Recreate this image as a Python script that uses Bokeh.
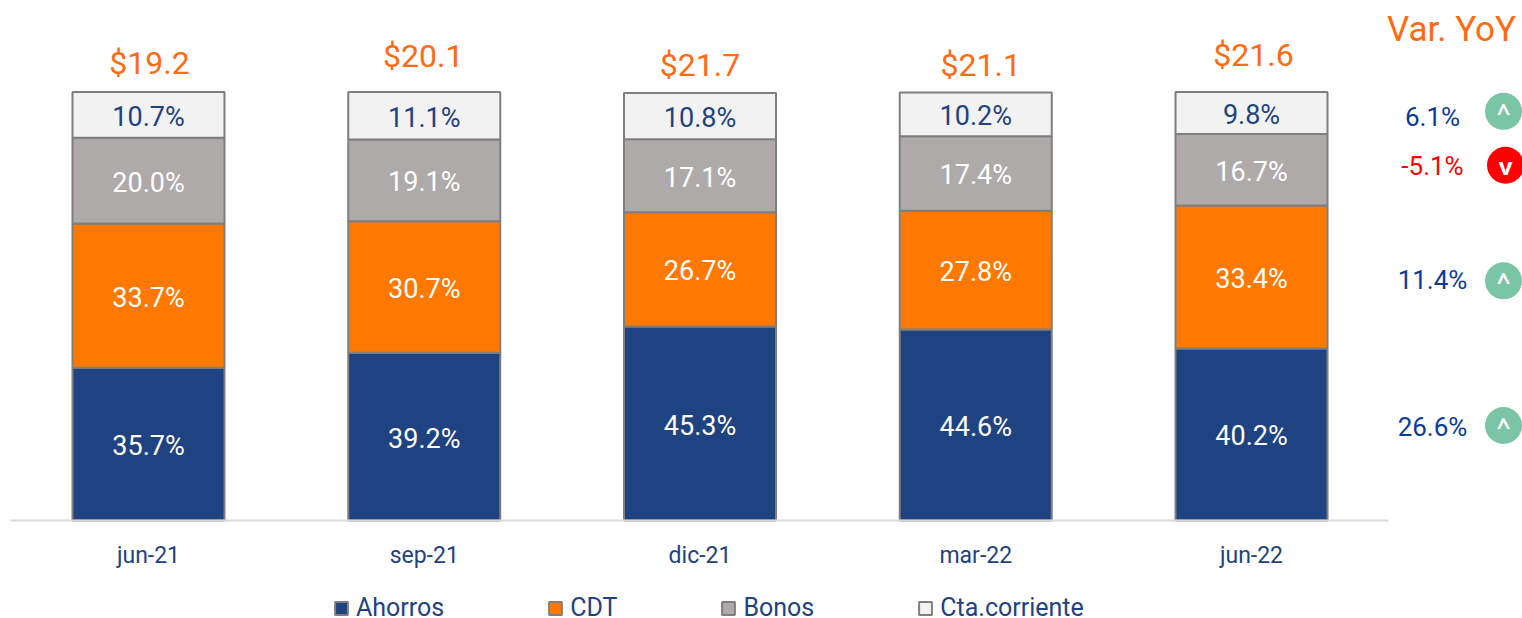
from bokeh.plotting import figure
from bokeh.models import ColumnDataSource, FixedTicker, Label, Legend, LegendItem
from bokeh.core.properties import value
from bokeh.embed import file_html
from bokeh.resources import INLINE

periods = ["jun-21", "sep-21", "dic-21", "mar-22", "jun-22"]
ahorros = [35.7, 39.2, 45.3, 44.6, 40.2]
cdt = [33.7, 30.7, 26.7, 27.8, 33.4]
bonos = [20.0, 19.1, 17.1, 17.4, 16.7]
cta = [10.7, 11.1, 10.8, 10.2, 9.8]
totals = ["$19.2", "$20.1", "$21.7", "$21.1", "$21.6"]
yoy_labels = ["6.1%", "-5.1%", "11.4%", "26.6%"]
yoy_up = [True, False, True, True]
legend_labels = ["Ahorros", "CDT", "Bonos", "Cta.corriente"]

# layout only
total_dy = [-30, -37, -28, -28, -38]
total_dx = [1, -1, 0, 5, 2]
yoy_y = [94.3, 82.9, 56.1, 21.9]
icon_y = [95.6, 83.0, 56.0, 22.2]
yoy_x = [1432, 1432, 1432, 1432]
icon_x = [1503, 1505, 1503, 1503]

FONT = "Roboto"
NAVY, ORANGE, GREY, LIGHT = "#1F4280", "#FF7900", "#AEAAAA", "#F2F2F2"
TOTAL = "#FF6A13"
PX_X, X0 = 275.75, 148.0
PX_Y = 4.28
to_x = lambda px: (px - X0) / PX_X

x = list(range(len(periods)))
p = figure(width=1522, height=618, output_backend="svg", toolbar_location=None,
           x_range=(-X0 / PX_X, (1522 - X0) / PX_X), y_range=(-98 / PX_Y, 520 / PX_Y),
           min_border_left=0, min_border_right=0, min_border_top=0, min_border_bottom=0,
           outline_line_color=None, background_fill_color="white")
p.grid.visible = False
p.yaxis.visible = False

ax = p.xaxis[0]
ax.fixed_location = 0
ax.ticker = FixedTicker(ticks=x)
ax.major_label_overrides = {i: s for i, s in enumerate(periods)}
ax.bounds = ((10 - X0) / PX_X, (1388 - X0) / PX_X)
ax.axis_line_color = "#D9D9D9"
ax.axis_line_width = 2
ax.major_tick_line_color = None
ax.minor_tick_line_color = None
ax.major_label_standoff = 15
ax.major_label_text_font = FONT
ax.major_label_text_font_size = "23px"
ax.major_label_text_color = NAVY

src = ColumnDataSource(dict(x=x, Ahorros=ahorros, CDT=cdt, Bonos=bonos, Cta=cta))
names = ["Ahorros", "CDT", "Bonos", "Cta"]
colors = [NAVY, ORANGE, GREY, LIGHT]
rs = p.vbar_stack(names, x="x", width=152 / PX_X, source=src,
                  fill_color=colors, line_color="#7F7F7F", line_width=2)

bottom = [0.0] * len(x)
for vals, col in zip([ahorros, cdt, bonos, cta], ["white", "white", "white", NAVY]):
    mids = [b + v / 2 for b, v in zip(bottom, vals)]
    bottom = [b + v for b, v in zip(bottom, vals)]
    s = ColumnDataSource(dict(x=x, y=mids, t=[f"{v:.1f}%" for v in vals]))
    p.text("x", "y", text="t", source=s, text_font=value(FONT), text_font_size="27px",
           text_color=col, text_align="center", text_baseline="middle", y_offset=2)

ts = ColumnDataSource(dict(x=x, y=[100] * 5, t=totals, dx=total_dx, dy=total_dy))
p.text("x", "y", text="t", source=ts, text_font=value(FONT), text_font_size="32px",
       text_color=TOTAL, text_align="center", text_baseline="middle", x_offset="dx", y_offset="dy")

ys = ColumnDataSource(dict(x=[to_x(v) for v in yoy_x], y=yoy_y, t=yoy_labels,
                           c=[("#0B3A9A" if u else "#FF0000") for u in yoy_up]))
p.text("x", "y", text="t", source=ys, text_font=value(FONT), text_font_size="26px",
       text_color="c", text_align="center", text_baseline="middle")
ic = ColumnDataSource(dict(x=[to_x(v) for v in icon_x], y=icon_y,
                           c=[("#7AC5A5" if u else "#FF0000") for u in yoy_up],
                           t=["^" if u else "v" for u in yoy_up]))
p.scatter("x", "y", source=ic, size=37, marker="circle", fill_color="c", line_color=None)
p.text("x", "y", text="t", source=ic, text_font=value("Noto Sans"), text_font_style="bold",
       text_font_size="24px", text_color="white", text_align="center", text_baseline="middle")

p.add_layout(Label(x=1451, y=589, x_units="screen", y_units="screen", text="Var. YoY",
                   text_font=FONT, text_font_size="35px", text_color=TOTAL,
                   text_align="center", text_baseline="middle"))

lg = Legend(items=[LegendItem(label=l, renderers=[r]) for l, r in zip(legend_labels, rs)],
            orientation="horizontal", location=(333, -4))
lg.background_fill_alpha = 0
lg.border_line_color = None
lg.padding = 0
lg.margin = 0
lg.spacing = 103
lg.glyph_width = 16
lg.glyph_height = 16
lg.label_standoff = 7
lg.label_text_font = FONT
lg.label_text_font_size = "25px"
lg.label_text_color = NAVY
p.add_layout(lg, "center")

open("out.html", "w").write(file_html(p, INLINE))
